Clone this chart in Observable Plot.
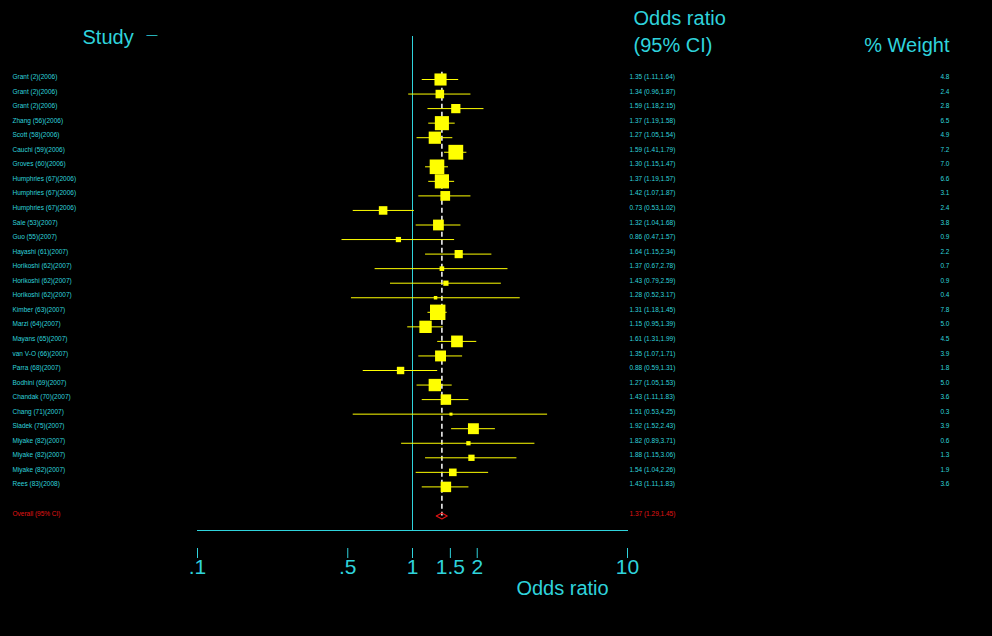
<!DOCTYPE html>
<html><head><meta charset="utf-8">
<script src="https://cdn.jsdelivr.net/npm/d3@7"></script>
<script src="https://cdn.jsdelivr.net/npm/@observablehq/plot@0.6"></script>
<style>html,body{margin:0;padding:0;background:#000;overflow:hidden;} svg{display:block;}</style>
</head><body><div id="chart"></div>
<script>
const studies = [
  "Grant (2)(2006)", "Grant (2)(2006)", "Grant (2)(2006)", "Zhang (56)(2006)", "Scott (58)(2006)",
  "Cauchi (59)(2006)", "Groves (60)(2006)", "Humphries (67)(2006)", "Humphries (67)(2006)", "Humphries (67)(2006)",
  "Sale (53)(2007)", "Guo (55)(2007)", "Hayashi (61)(2007)", "Horikoshi (62)(2007)", "Horikoshi (62)(2007)",
  "Horikoshi (62)(2007)", "Kimber (63)(2007)", "Marzi (64)(2007)", "Mayans (65)(2007)", "van V-O (66)(2007)",
  "Parra (68)(2007)", "Bodhini (69)(2007)", "Chandak (70)(2007)", "Chang (71)(2007)", "Sladek (75)(2007)",
  "Miyake (82)(2007)", "Miyake (82)(2007)", "Miyake (82)(2007)", "Rees (83)(2008)"
];
const oddsRatio = [1.35,1.34,1.59,1.37,1.27,1.59,1.30,1.37,1.42,0.73,1.32,0.86,1.64,1.37,1.43,1.28,1.31,1.15,1.61,1.35,0.88,1.27,1.43,1.51,1.92,1.82,1.88,1.54,1.43];
const ciLow =     [1.11,0.96,1.18,1.19,1.05,1.41,1.15,1.19,1.07,0.53,1.04,0.47,1.15,0.67,0.79,0.52,1.18,0.95,1.31,1.07,0.59,1.05,1.11,0.53,1.52,0.89,1.15,1.04,1.11];
const ciHigh =    [1.64,1.87,2.15,1.58,1.54,1.79,1.47,1.57,1.87,1.02,1.68,1.57,2.34,2.78,2.59,3.17,1.45,1.39,1.99,1.71,1.31,1.53,1.83,4.25,2.43,3.71,3.06,2.26,1.83];
const weight =    [4.8,2.4,2.8,6.5,4.9,7.2,7.0,6.6,3.1,2.4,3.8,0.9,2.2,0.7,0.9,0.4,7.8,5.0,4.5,3.9,1.8,5.0,3.6,0.3,3.9,0.6,1.3,1.9,3.6];
const overallLabel = "Overall (95% CI)";
const overallOR = 1.37, overallLow = 1.29, overallHigh = 1.45;
const xTicks = [0.1, 0.5, 1, 1.5, 2, 10];
const xTickLabels = [".1", ".5", "1", "1.5", "2", "10"];

const CYAN = "#2fd3dc", YEL = "#ffff00", RED = "#e01414";
const rows = studies.map((s, i) => ({study: s, or: oddsRatio[i], lo: ciLow[i], hi: ciHigh[i], w: weight[i], row: i + 1}));
const overallRow = rows.length + 2;
const ciText = (o, l, h) => `${o.toFixed(2)} (${l.toFixed(2)},${h.toFixed(2)})`;
const diamond = [
  {x: overallLow, y: overallRow}, {x: overallOR, y: overallRow - 0.2},
  {x: overallHigh, y: overallRow}, {x: overallOR, y: overallRow + 0.2}, {x: overallLow, y: overallRow}
];
const tickData = xTicks.map((v, i) => ({v, label: xTickLabels[i]}));
const small = {fontSize: 6.5, dy: -2.5};
const big = {fontSize: 20, fill: CYAN, lineAnchor: "middle"};

const chart = Plot.plot({
  width: 992, height: 636,
  marginLeft: 197, marginRight: 365, marginTop: 36, marginBottom: 106,
  style: {background: "#000", fontFamily: "Arial, 'Liberation Sans', sans-serif"},
  x: {type: "log", domain: [0.1, 10], axis: null},
  y: {domain: [1, overallRow], range: [79, 515.5], axis: null},
  r: {type: "sqrt", domain: [0, 7.8], range: [0, 8.7]},
  marks: [
    Plot.frame({anchor: "bottom", stroke: CYAN}),
    Plot.ruleX([1], {stroke: CYAN, strokeWidth: 1}),
    Plot.axisX(xTicks, {anchor: "bottom", tickSize: 10, dy: 18, color: CYAN, label: null, text: null}),
    Plot.text(tickData, {x: "v", text: "label", frameAnchor: "bottom", lineAnchor: "middle", dy: 37, fontSize: 21, fill: CYAN}),
    Plot.ruleX([overallOR], {y1: 0.5, y2: overallRow, stroke: "#fff", strokeWidth: 1.5, strokeDasharray: "5,3"}),
    Plot.ruleY(rows, {y: "row", x1: "lo", x2: "hi", stroke: YEL, strokeWidth: 1}),
    Plot.dot(rows, {x: "or", y: "row", r: "w", symbol: "square", fill: YEL, stroke: null}),
    Plot.line(diamond, {x: "x", y: "y", stroke: RED, strokeWidth: 1.2}),
    Plot.text(rows, {y: "row", text: "study", frameAnchor: "left", dx: -185, textAnchor: "start", fill: CYAN, ...small}),
    Plot.text(rows, {y: "row", text: d => ciText(d.or, d.lo, d.hi), frameAnchor: "right", dx: 2, textAnchor: "start", fill: CYAN, ...small}),
    Plot.text(rows, {y: "row", text: d => d.w.toFixed(1), frameAnchor: "right", dx: 322, textAnchor: "end", fill: CYAN, ...small}),
    Plot.text([overallRow], {y: d => d, text: [overallLabel], frameAnchor: "left", dx: -185, textAnchor: "start", fill: RED, ...small}),
    Plot.text([overallRow], {y: d => d, text: [ciText(overallOR, overallLow, overallHigh)], frameAnchor: "right", dx: 2, textAnchor: "start", fill: RED, ...small}),
    Plot.text(["Study"], {frameAnchor: "top-left", dx: -115, dy: 1, textAnchor: "start", ...big}),
    Plot.text(["\u2014"], {frameAnchor: "top-left", dx: -51, dy: -2, textAnchor: "start", fontSize: 11, fill: CYAN, lineAnchor: "middle"}),
    Plot.text(["Odds ratio"], {frameAnchor: "top-right", dx: 6, dy: -18, textAnchor: "start", ...big}),
    Plot.text(["(95% CI)"], {frameAnchor: "top-right", dx: 6, dy: 9, textAnchor: "start", ...big}),
    Plot.text(["% Weight"], {frameAnchor: "top-right", dx: 322, dy: 9, textAnchor: "end", ...big}),
    Plot.text(["Odds ratio"], {frameAnchor: "bottom-right", dx: -65, dy: 58, textAnchor: "middle", ...big})
  ]
});
document.getElementById("chart").appendChild(chart);
</script>
</body></html>
